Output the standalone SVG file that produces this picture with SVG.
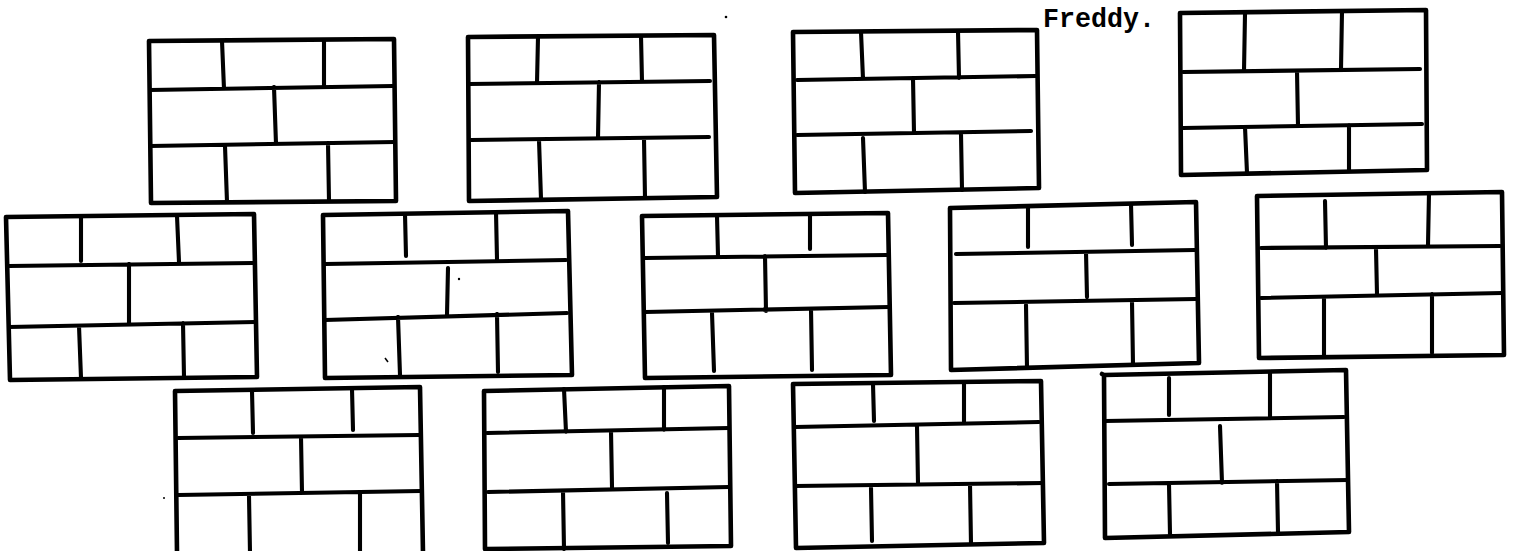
<svg xmlns="http://www.w3.org/2000/svg" width="1514" height="551" viewBox="0 0 1514 551">
<style>
.frame{fill:none;stroke:#000;stroke-width:4.6;stroke-linejoin:round;stroke-linecap:round}
.ln{fill:none;stroke:#000;stroke-width:4.1;stroke-linecap:round}
.lbl{font-family:"Liberation Mono","Courier New",monospace;font-size:28px;font-weight:bold;fill:#000}
.speck{fill:#000}
</style>
<rect width="1514" height="551" fill="#fff"/>
<text class="lbl" x="1043" y="27" textLength="112" lengthAdjust="spacingAndGlyphs">Freddy.</text>

<g id="wall1">
<path class="frame" d="M149,41 L394,39 L396,201 L151,203 Z"/>
<path class="ln" d="M150,90 L393,86 M150,146 L395,142 M222,41 L224,89 M324,40 L324,87 M274,87 L276,144 M225,146 L227,202 M328,143 L329,201"/>
</g>
<g id="wall2">
<path class="frame" d="M468,37 L714,35 L717,197 L469,201 Z"/>
<path class="ln" d="M469,84 L710,81 M471,140 L709,137 M538,37 L537,83 M641,36 L642,82 M599,82 L598,138 M539,140 L541,199 M644,139 L645,198"/>
</g>
<g id="wall3">
<path class="frame" d="M793,32 L1037,30 L1039,188 L795,193 Z"/>
<path class="ln" d="M797,80 L1036,76 M797,135 L1031,131 M861,32 L863,79 M958,31 L959,78 M913,78 L914,133 M863,138 L865,192 M961,134 L962,190"/>
</g>
<g id="wall4">
<path class="frame" d="M1180,13 L1426,10 L1427,170 L1181,175 Z"/>
<path class="ln" d="M1183,72 L1420,69 M1183,128 L1422,124 M1245,14 L1244,71 M1342,11 L1341,69 M1297,71 L1298,126 M1245,127 L1247,173 M1349,125 L1349,171"/>
</g>

<g id="wall5">
<path class="frame" d="M6,217 L254,214 L257,377 L10,380 Z"/>
<path class="ln" d="M9,266 L253,263 M9,327 L255,322 M81,217 L81,261 M177,216 L179,262 M129,264 L129,324 M79,326 L81,378 M183,323 L184,377"/>
</g>
<g id="wall6">
<path class="frame" d="M323,215 L568,211 L572,375 L325,378 Z"/>
<path class="ln" d="M325,264 L566,260 M325,320 L567,313 M405,214 L406,256 M496,212 L497,259 M448,268 L447,315 M398,317 L400,375 M497,314 L498,372"/>
</g>
<g id="wall7">
<path class="frame" d="M642,216 L888,213 L891,375 L645,378 Z"/>
<path class="ln" d="M645,258 L887,255 M645,312 L889,307 M717,216 L718,256 M810,214 L810,249 M765,256 L766,311 M712,313 L714,371 M811,309 L812,370"/>
</g>
<g id="wall8">
<path class="frame" d="M950,208 L1196,202 L1199,363 L951,370 Z"/>
<path class="ln" d="M956,254 L1195,250 M954,303 L1196,299 M1028,207 L1028,247 M1131,204 L1132,245 M1086,252 L1087,297 M1026,305 L1027,368 M1132,302 L1133,365"/>
</g>
<g id="wall9">
<path class="frame" d="M1257,196 L1502,192 L1504,355 L1259,358 Z"/>
<path class="ln" d="M1261,248 L1500,246 M1261,298 L1502,293 M1325,201 L1326,248 M1429,193 L1428,245 M1376,249 L1377,294 M1324,298 L1324,356 M1432,294 L1432,353"/>
</g>

<g id="wall10">
<path class="frame" d="M177,553 L175,391 L420,387 L423,553"/>
<path class="ln" d="M178,438 L419,435 M178,495 L421,491 M252,391 L253,433 M352,389 L353,430 M301,437 L302,493 M249,496 L250,553 M360,493 L360,553"/>
</g>
<g id="wall11">
<path class="frame" d="M484,391 L729,386 L731,546 L485,549 Z"/>
<path class="ln" d="M487,433 L729,428 M488,492 L729,487 M564,389 L566,432 M664,387 L664,430 M611,431 L612,487 M563,491 L564,549 M667,493 L668,543"/>
</g>
<g id="wall12">
<path class="frame" d="M793,384 L1041,381 L1044,543 L796,548 Z"/>
<path class="ln" d="M795,427 L1039,422 M795,486 L1043,483 M873,384 L874,421 M964,382 L964,421 M917,426 L918,484 M871,488 L872,541 M970,484 L971,544"/>
</g>
<g id="wall13">
<path class="frame" d="M1102,374 L1104,375 L1346,370 L1349,532 L1105,538 L1104,375"/>
<path class="ln" d="M1105,421 L1344,417 M1109,484 L1348,480 M1169,378 L1169,415 M1270,372 L1270,417 M1220,426 L1222,483 M1169,484 L1170,534 M1277,481 L1278,532"/>
</g>

<circle class="speck" cx="726" cy="17" r="1.3"/>
<circle class="speck" cx="164" cy="498" r="1"/>
<circle class="speck" cx="459" cy="279" r="1.2"/>
<path class="speck" d="M385,358 L388,362" stroke="#000" stroke-width="1.5"/>
</svg>
